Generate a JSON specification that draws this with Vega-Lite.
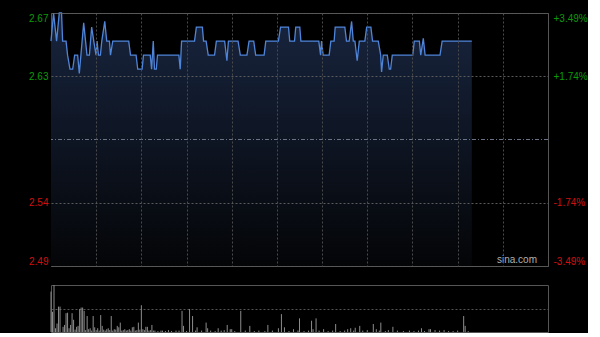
{
  "$schema": "https://vega.github.io/schema/vega-lite/v6.json",
  "background": "#000000",
  "padding": {"left": 28, "top": 9, "right": 0, "bottom": 0},
  "spacing": 19,
  "bounds": "flush",
  "config": {
    "view": {"stroke": "#555555"},
    "axis": {"labelFont": "Liberation Sans", "labelFontSize": 10}
  },
  "datasets": {
    "price": [
      {"t": 0, "p": 2.65}, {"t": 1.7, "p": 2.67}, {"t": 3.7, "p": 2.65}, {"t": 5.5, "p": 2.67}, {"t": 7, "p": 2.67},
      {"t": 7.7, "p": 2.65}, {"t": 10, "p": 2.65}, {"t": 11, "p": 2.64}, {"t": 12.6, "p": 2.63}, {"t": 14.4, "p": 2.63},
      {"t": 15.7, "p": 2.64}, {"t": 17.7, "p": 2.64}, {"t": 18.8, "p": 2.627}, {"t": 21.7, "p": 2.663}, {"t": 23.9, "p": 2.64},
      {"t": 25.5, "p": 2.64}, {"t": 27, "p": 2.66}, {"t": 28.4, "p": 2.65}, {"t": 29.9, "p": 2.64}, {"t": 30.6, "p": 2.65},
      {"t": 31.5, "p": 2.64}, {"t": 32.8, "p": 2.64}, {"t": 33.7, "p": 2.65}, {"t": 35.7, "p": 2.664}, {"t": 37, "p": 2.65},
      {"t": 38.8, "p": 2.65}, {"t": 39.5, "p": 2.64}, {"t": 41, "p": 2.65}, {"t": 51.6, "p": 2.65}, {"t": 52.8, "p": 2.64},
      {"t": 56.5, "p": 2.64}, {"t": 57.6, "p": 2.63}, {"t": 60.5, "p": 2.63}, {"t": 61.4, "p": 2.64}, {"t": 65.9, "p": 2.64},
      {"t": 66.8, "p": 2.63}, {"t": 67.9, "p": 2.65}, {"t": 68.7, "p": 2.63}, {"t": 69.9, "p": 2.63}, {"t": 70.7, "p": 2.64},
      {"t": 84.9, "p": 2.64}, {"t": 85.8, "p": 2.63}, {"t": 86.7, "p": 2.65}, {"t": 95.3, "p": 2.65}, {"t": 96.5, "p": 2.66},
      {"t": 100.5, "p": 2.66}, {"t": 101.3, "p": 2.65}, {"t": 103, "p": 2.65}, {"t": 104.4, "p": 2.64}, {"t": 108.6, "p": 2.64},
      {"t": 109.8, "p": 2.65}, {"t": 115.3, "p": 2.65}, {"t": 116.8, "p": 2.636}, {"t": 117.8, "p": 2.65}, {"t": 124.2, "p": 2.65},
      {"t": 125.7, "p": 2.64}, {"t": 130.1, "p": 2.64}, {"t": 131.5, "p": 2.65}, {"t": 134.6, "p": 2.65}, {"t": 135.9, "p": 2.64},
      {"t": 141.5, "p": 2.64}, {"t": 142.6, "p": 2.65}, {"t": 151, "p": 2.65}, {"t": 152.4, "p": 2.66}, {"t": 157.7, "p": 2.66},
      {"t": 158.5, "p": 2.65}, {"t": 161.7, "p": 2.65}, {"t": 162.5, "p": 2.66}, {"t": 165.2, "p": 2.66}, {"t": 165.9, "p": 2.65},
      {"t": 177.8, "p": 2.65}, {"t": 179, "p": 2.64}, {"t": 179.6, "p": 2.65}, {"t": 180.7, "p": 2.64}, {"t": 184.7, "p": 2.64},
      {"t": 185.8, "p": 2.65}, {"t": 188, "p": 2.65}, {"t": 188.7, "p": 2.66}, {"t": 195.1, "p": 2.66}, {"t": 196.2, "p": 2.65},
      {"t": 198, "p": 2.65}, {"t": 199.6, "p": 2.664}, {"t": 200.7, "p": 2.65}, {"t": 201.8, "p": 2.65}, {"t": 203.3, "p": 2.636},
      {"t": 204.7, "p": 2.65}, {"t": 208.4, "p": 2.65}, {"t": 209.6, "p": 2.66}, {"t": 212.4, "p": 2.66}, {"t": 213.5, "p": 2.65},
      {"t": 217.3, "p": 2.65}, {"t": 218.9, "p": 2.64}, {"t": 219.5, "p": 2.628}, {"t": 220.6, "p": 2.64}, {"t": 223.3, "p": 2.64},
      {"t": 224.6, "p": 2.63}, {"t": 225.5, "p": 2.63}, {"t": 226.6, "p": 2.64}, {"t": 240.2, "p": 2.64}, {"t": 241.2, "p": 2.65},
      {"t": 244.6, "p": 2.65}, {"t": 245.5, "p": 2.64}, {"t": 247.2, "p": 2.652}, {"t": 248.4, "p": 2.64}, {"t": 258.3, "p": 2.64},
      {"t": 259.7, "p": 2.65}, {"t": 279.4, "p": 2.65}
    ],
    "vol": [
      {"t": 0, "v": 86}, {"t": 1, "v": 43}, {"t": 2, "v": 100}, {"t": 3, "v": 8}, {"t": 4, "v": 18}, {"t": 5, "v": 54},
      {"t": 6, "v": 54}, {"t": 8, "v": 11}, {"t": 9, "v": 15}, {"t": 10, "v": 40}, {"t": 11, "v": 41}, {"t": 12, "v": 8},
      {"t": 13, "v": 15}, {"t": 14, "v": 40}, {"t": 15, "v": 26}, {"t": 16, "v": 5}, {"t": 17, "v": 11}, {"t": 18, "v": 13},
      {"t": 19, "v": 49}, {"t": 20, "v": 52}, {"t": 21, "v": 52}, {"t": 22, "v": 45}, {"t": 23, "v": 4}, {"t": 24, "v": 34},
      {"t": 25, "v": 6}, {"t": 26, "v": 8}, {"t": 27, "v": 3}, {"t": 28, "v": 34}, {"t": 29, "v": 10}, {"t": 30, "v": 4},
      {"t": 31, "v": 8}, {"t": 32, "v": 3}, {"t": 33, "v": 36}, {"t": 34, "v": 13}, {"t": 35, "v": 5}, {"t": 36, "v": 3},
      {"t": 37, "v": 6}, {"t": 38, "v": 8}, {"t": 39, "v": 4}, {"t": 40, "v": 34}, {"t": 41, "v": 3}, {"t": 42, "v": 6},
      {"t": 43, "v": 5}, {"t": 44, "v": 13}, {"t": 45, "v": 10}, {"t": 46, "v": 20}, {"t": 47, "v": 3}, {"t": 48, "v": 4},
      {"t": 49, "v": 6}, {"t": 50, "v": 3}, {"t": 51, "v": 4}, {"t": 52, "v": 6}, {"t": 53, "v": 3}, {"t": 54, "v": 10},
      {"t": 55, "v": 11}, {"t": 56, "v": 3}, {"t": 57, "v": 4}, {"t": 58, "v": 20}, {"t": 59, "v": 5}, {"t": 60, "v": 57},
      {"t": 61, "v": 6}, {"t": 62, "v": 4}, {"t": 63, "v": 11}, {"t": 64, "v": 11}, {"t": 65, "v": 3}, {"t": 66, "v": 4},
      {"t": 67, "v": 15}, {"t": 68, "v": 3}, {"t": 69, "v": 3}, {"t": 71, "v": 2}, {"t": 73, "v": 3}, {"t": 74, "v": 3},
      {"t": 76, "v": 2}, {"t": 78, "v": 4}, {"t": 80, "v": 2}, {"t": 83, "v": 3}, {"t": 85, "v": 3}, {"t": 87, "v": 45},
      {"t": 88, "v": 13}, {"t": 90, "v": 2}, {"t": 92, "v": 49}, {"t": 94, "v": 34}, {"t": 96, "v": 3}, {"t": 97, "v": 10},
      {"t": 100, "v": 3}, {"t": 103, "v": 20}, {"t": 104, "v": 8}, {"t": 106, "v": 3}, {"t": 109, "v": 2}, {"t": 111, "v": 8},
      {"t": 113, "v": 3}, {"t": 115, "v": 4}, {"t": 117, "v": 15}, {"t": 119, "v": 6}, {"t": 120, "v": 6}, {"t": 122, "v": 2},
      {"t": 126, "v": 45}, {"t": 129, "v": 3}, {"t": 132, "v": 13}, {"t": 135, "v": 2}, {"t": 138, "v": 3}, {"t": 142, "v": 2},
      {"t": 144, "v": 15}, {"t": 147, "v": 3}, {"t": 151, "v": 8}, {"t": 153, "v": 38}, {"t": 155, "v": 10}, {"t": 158, "v": 2},
      {"t": 161, "v": 6}, {"t": 164, "v": 3}, {"t": 165, "v": 29}, {"t": 168, "v": 2}, {"t": 171, "v": 3}, {"t": 173, "v": 24},
      {"t": 174, "v": 6}, {"t": 176, "v": 29}, {"t": 178, "v": 3}, {"t": 181, "v": 6}, {"t": 184, "v": 2}, {"t": 187, "v": 3},
      {"t": 189, "v": 17}, {"t": 192, "v": 2}, {"t": 195, "v": 3}, {"t": 197, "v": 6}, {"t": 199, "v": 8}, {"t": 201, "v": 3},
      {"t": 202, "v": 9}, {"t": 205, "v": 13}, {"t": 207, "v": 3}, {"t": 210, "v": 4}, {"t": 214, "v": 17}, {"t": 216, "v": 6},
      {"t": 218, "v": 3}, {"t": 219, "v": 20}, {"t": 222, "v": 2}, {"t": 224, "v": 4}, {"t": 227, "v": 11}, {"t": 230, "v": 3},
      {"t": 234, "v": 2}, {"t": 238, "v": 3}, {"t": 241, "v": 2}, {"t": 244, "v": 3}, {"t": 246, "v": 8}, {"t": 248, "v": 2},
      {"t": 251, "v": 6}, {"t": 252, "v": 6}, {"t": 255, "v": 4}, {"t": 258, "v": 3}, {"t": 261, "v": 4}, {"t": 264, "v": 2},
      {"t": 267, "v": 2}, {"t": 270, "v": 3}, {"t": 274, "v": 34}, {"t": 275, "v": 13}, {"t": 277, "v": 2}
    ]
  },
  "vconcat": [
    {
      "width": 497,
      "height": 253,
      "layer": [
        {
          "layer": [
            {
              "data": {"name": "price"},
              "mark": {
                "type": "area",
                "color": {
                  "x1": 0, "y1": 0, "x2": 0, "y2": 1, "gradient": "linear",
                  "stops": [{"offset": 0, "color": "#18253f"}, {"offset": 1, "color": "#040507"}]
                }
              },
              "encoding": {
                "x": {
                  "field": "t", "type": "quantitative",
                  "scale": {"domain": [0, 330], "nice": false, "zero": false},
                  "axis": {
                    "values": [30, 60, 90, 120, 150, 180, 210, 240, 270, 300],
                    "labels": false, "ticks": false, "domain": false, "grid": true, "zindex": 1,
                    "gridColor": "#4a4a4a", "gridDash": [2, 2], "title": null
                  }
                },
                "y": {
                  "field": "p", "type": "quantitative",
                  "scale": {"domain": [2.49, 2.67], "nice": false, "zero": false},
                  "axis": {
                    "values": [2.49, 2.535, 2.625, 2.67],
                    "labelExpr": "datum.value > 2.66 ? '2.67' : datum.value > 2.6 ? '2.63' : datum.value > 2.5 ? '2.54' : '2.49'",
                    "labelColor": {"condition": {"test": "datum.value > 2.58", "value": "#0a9a0a"}, "value": "#d01010"},
                    "labelFlush": true, "labelPadding": 3, "ticks": false, "domain": false, "zindex": 1,
                    "grid": true, "gridColor": "#5a5a5a", "gridDash": [2, 2], "title": null
                  }
                },
                "y2": {"datum": 2.49}
              }
            },
            {
              "data": {"name": "price"},
              "mark": {"type": "line", "color": "#4f85d9", "strokeWidth": 1.3},
              "encoding": {
                "x": {"field": "t", "type": "quantitative"},
                "y": {"field": "p", "type": "quantitative"}
              }
            },
            {
              "data": {"values": [{}]},
              "mark": {"type": "rule", "color": "#6a7385", "strokeDash": [4, 2, 1, 2]},
              "encoding": {"y": {"datum": 2.58, "type": "quantitative"}}
            },
            {
              "data": {"values": [{}]},
              "mark": {"type": "text", "text": "sina.com", "align": "right", "baseline": "bottom", "dy": -1, "font": "Liberation Sans", "fontSize": 10, "color": "#b0b0b0"},
              "encoding": {
                "x": {"datum": 322.7, "type": "quantitative"},
                "y": {"datum": 2.49, "type": "quantitative"}
              }
            }
          ]
        },
        {
          "data": {"values": [{}]},
          "mark": {"type": "rule", "opacity": 0},
          "encoding": {
            "y": {
              "datum": 2.58, "type": "quantitative",
              "scale": {"domain": [2.49, 2.67], "nice": false, "zero": false},
              "axis": {
                "orient": "right",
                "values": [2.49, 2.535, 2.625, 2.67],
                "labelExpr": "datum.value > 2.66 ? '+3.49%' : datum.value > 2.6 ? '+1.74%' : datum.value > 2.5 ? '-1.74%' : '-3.49%'",
                "labelColor": {"condition": {"test": "datum.value > 2.58", "value": "#0a9a0a"}, "value": "#d01010"},
                "labelFlush": true, "labelPadding": 5, "ticks": false, "domain": false,
                "grid": false, "title": null
              }
            }
          }
        }
      ],
      "resolve": {"scale": {"y": "independent"}}
    },
    {
      "width": 497,
      "height": 47,
      "data": {"name": "vol"},
      "mark": {"type": "rule", "color": "#8c8c8c", "strokeWidth": 1},
      "encoding": {
        "x": {"field": "t", "type": "quantitative", "scale": {"domain": [0, 330], "nice": false, "zero": false}, "axis": null},
        "y": {
          "field": "v", "type": "quantitative",
          "scale": {"domain": [0, 100], "nice": false},
          "axis": {"values": [50], "labels": false, "ticks": false, "domain": false, "grid": true, "gridColor": "#555555", "gridDash": [2, 2], "title": null}
        },
        "y2": {"datum": 0}
      }
    }
  ]
}
